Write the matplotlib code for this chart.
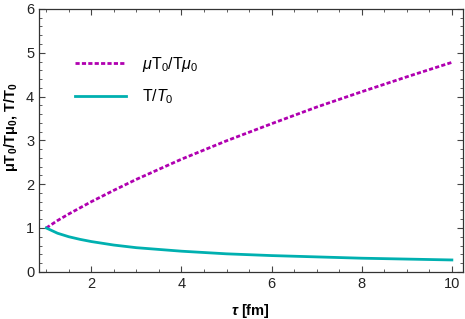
import matplotlib
matplotlib.use("Agg")
import matplotlib.pyplot as plt
from matplotlib.ticker import MultipleLocator

plt.rcParams["font.family"] = ["Liberation Sans", "DejaVu Sans"]
plt.rcParams["mathtext.fontset"] = "custom"
plt.rcParams["mathtext.rm"] = "Liberation Sans"
plt.rcParams["mathtext.it"] = "Liberation Sans:italic"
plt.rcParams["mathtext.bf"] = "Liberation Sans:bold"
plt.rcParams["mathtext.bfit"] = "Liberation Sans:bold:italic"

# values
tau = [1.0, 1.25, 1.5, 1.75, 2.0, 2.5, 3.0, 3.5, 4.0, 5.0, 6.0, 7.0, 8.0, 9.0, 10.0]
mu_ratio = [1.0, 1.17, 1.32, 1.46, 1.60, 1.86, 2.11, 2.34, 2.57, 2.99, 3.38, 3.76, 4.11, 4.45, 4.78]
t_ratio = [1.0, 0.88, 0.80, 0.74, 0.69, 0.61, 0.55, 0.51, 0.47, 0.41, 0.37, 0.34, 0.31, 0.29, 0.27]

magenta = "#b000b0"
teal = "#00b0b0"

fig = plt.figure(figsize=(4.65, 3.19), dpi=100)
ax = fig.add_axes([0.084, 0.148, 0.911, 0.824])

ax.plot(tau, mu_ratio, color=magenta, lw=2.0, ls=(0, (1.5, 0.8)),
        label=r"$\mu$T$_0$/T$\mu_0$")
ax.plot(tau, t_ratio, color=teal, lw=2.0, label=r"T/$T_0$")

ax.set_xlim(0.84, 10.24)
ax.set_ylim(0, 6)
ax.xaxis.set_major_locator(MultipleLocator(2))
ax.xaxis.set_minor_locator(MultipleLocator(0.5))
ax.yaxis.set_major_locator(MultipleLocator(1))
ax.yaxis.set_minor_locator(MultipleLocator(0.2))
ax.tick_params(which="both", direction="in", top=True, right=True,
               color="#444444", labelsize=10.5, labelcolor="#222222")
ax.tick_params(which="major", length=4.5, width=0.8)
ax.tick_params(which="minor", length=2.5, width=0.6)
for s in ax.spines.values():
    s.set_color("#333333")
    s.set_linewidth(0.9)

ax.set_xlabel(r"$\boldsymbol{\tau}$ [fm]", fontweight="bold", fontsize=10.5, labelpad=8)
ax.set_ylabel(r"$\mathbf{\mu T_0/T\mu_0}$, $\mathbf{T/T_0}$", fontweight="bold",
              fontsize=10.5)
ax.yaxis.set_label_coords(-0.046, 0.55)

ax.legend(loc="upper left", bbox_to_anchor=(0.05, 0.88), frameon=False,
          handlelength=3.2, handletextpad=1.0, labelspacing=0.85, fontsize=11.5)

fig.savefig("out.png", dpi=100)
